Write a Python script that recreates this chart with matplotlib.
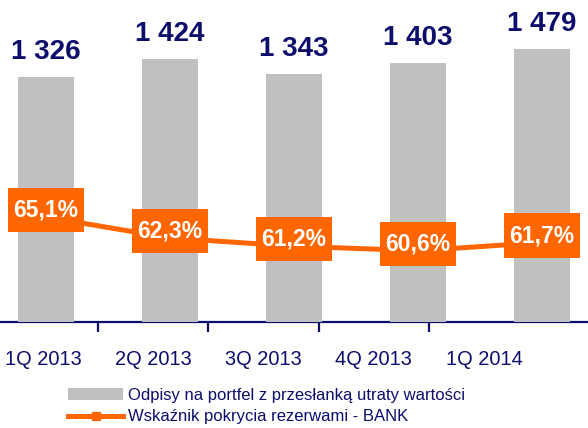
import numpy as np
import matplotlib.pyplot as plt
from matplotlib.patches import Patch
from matplotlib.lines import Line2D
from matplotlib.path import Path

plt.rcParams['font.family'] = ['Liberation Sans', 'DejaVu Sans']

quarters = ['1Q 2013', '2Q 2013', '3Q 2013', '4Q 2013', '1Q 2014']
odpisy = [1326, 1424, 1343, 1403, 1479]
odpisy_labels = ['1 326', '1 424', '1 343', '1 403', '1 479']
wskaznik = [65.1, 62.3, 61.2, 60.6, 61.7]
wskaznik_labels = ['65,1%', '62,3%', '61,2%', '60,6%', '61,7%']

navy = '#0d0d6b'
grey = '#c0c0c0'
orange = '#ff6600'

W, H = 588, 428
fig = plt.figure(figsize=(W / 100, H / 100), dpi=100)

base = 322  # axis line, px from top
rect = [0, (H - base) / H, 1, base / H]


def tall_box(x0, y0, width, height, mutation_size):
    # rectangle with more padding above/below than at the sides
    px = 0.22 * mutation_size
    py = 0.46 * mutation_size
    x0, x1 = x0 - px, x0 + width + px
    y0, y1 = y0 - py, y0 + height + py
    return Path([(x0, y0), (x1, y0), (x1, y1), (x0, y1), (x0, y0)], closed=True)


# x axis (line, ticks, labels) on its own axes
axx = fig.add_axes(rect, zorder=0)
axx.patch.set_visible(False)
n = len(quarters)
axx.set_xlim(-43 / 110.3, (W - 43) / 110.3)
axx.set_ylim(0, 1)
for s in ['top', 'left', 'right']:
    axx.spines[s].set_visible(False)
axx.spines['bottom'].set_color(navy)
axx.spines['bottom'].set_linewidth(1.6)
axx.set_yticks([])
axx.set_xticks(np.arange(n))
axx.set_xticklabels(quarters, fontsize=14.4, color=navy)
axx.set_xticks(np.arange(n - 1) + 0.5, minor=True)
axx.tick_params(axis='x', which='major', length=0, pad=20)
axx.tick_params(axis='x', which='minor', length=7, width=1.6, color=navy, direction='out')

# bars
ax = fig.add_axes(rect, zorder=1)
ax.patch.set_visible(False)
x = np.arange(n)
ax.bar(x, odpisy, width=56 / 124, color=grey)
ax.set_xlim(-46 / 124, (W - 46) / 124)
ax.set_ylim(0, base / 0.1847)
ax.axis('off')
for xi, v, lab in zip(x, odpisy, odpisy_labels):
    ax.annotate(lab, (xi, v), xytext=(0, 13), textcoords='offset points',
                ha='center', va='baseline', fontsize=20, fontweight='bold', color=navy)

# line on secondary scale
ax2 = fig.add_axes(rect, zorder=2)
ax2.patch.set_visible(False)
ax2.plot(x, wskaznik, color=orange, lw=3.6, marker='s', ms=6)
ax2.set_xlim(ax.get_xlim())
ax2.set_ylim(65.1 - 105 / 7.49, 65.1 + 217 / 7.49)
ax2.axis('off')
for xi, v, lab in zip(x, wskaznik, wskaznik_labels):
    ax2.annotate(lab, (xi, v), xytext=(0, 5), textcoords='offset points',
                 ha='center', va='center', fontsize=16.5, fontweight='bold', color='white',
                 bbox=dict(boxstyle=tall_box, fc=orange, ec='none'))

handles = [Patch(facecolor=grey, edgecolor='none'),
           Line2D([], [], color=orange, lw=3.6, marker='s', ms=6)]
labels = ['Odpisy na portfel z przesłanką utraty wartości',
          'Wskaźnik pokrycia rezerwami - BANK']
fig.legend(handles, labels, loc='center left', bbox_to_anchor=(68 / W, 1 - 406 / H),
           frameon=False, fontsize=12, labelcolor=navy, borderpad=0, borderaxespad=0,
           handlelength=3.3, handletextpad=0.3, labelspacing=0.4)

fig.savefig('out.png', dpi=100)
